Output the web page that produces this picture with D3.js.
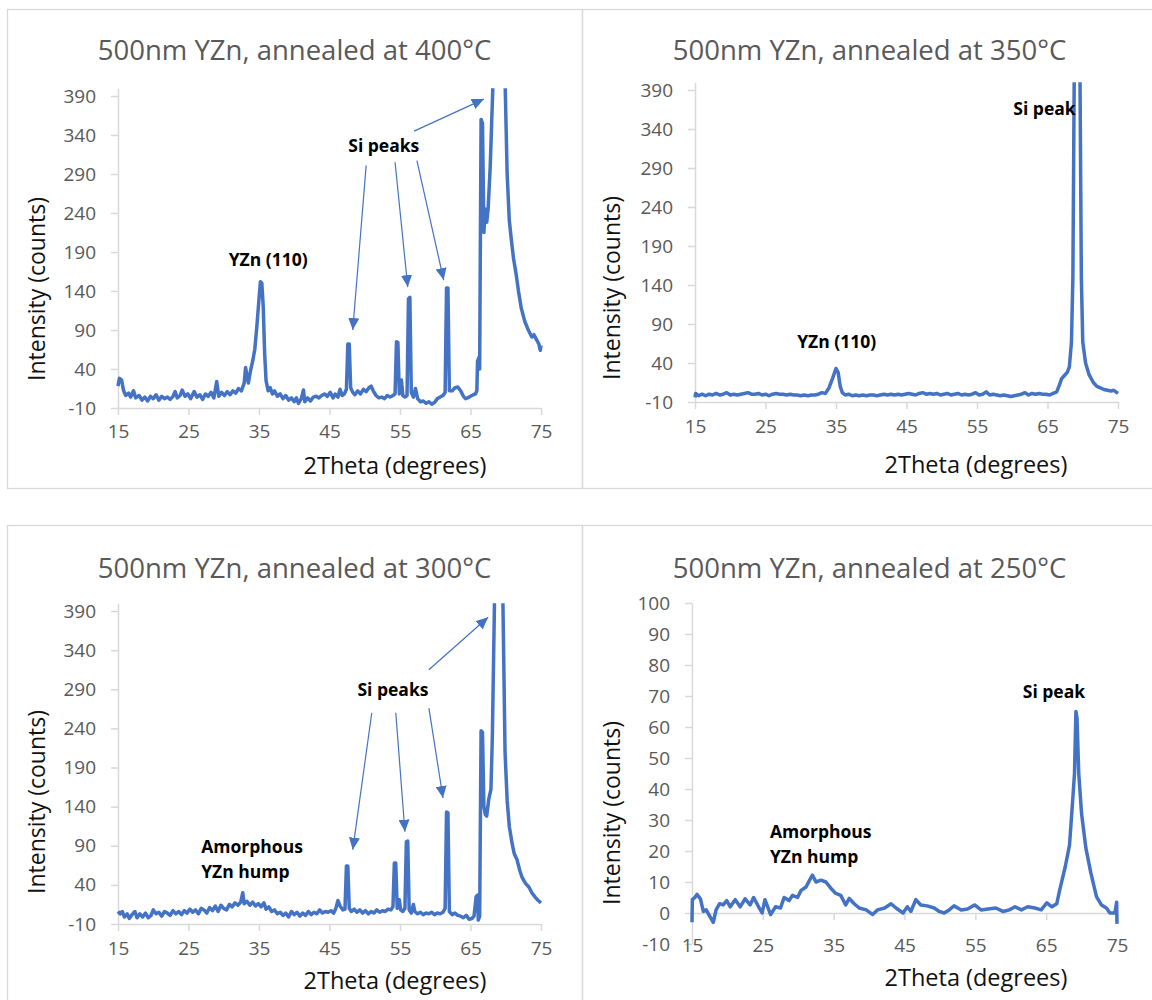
<!DOCTYPE html>
<html>
<head>
<meta charset="utf-8">
<script src="https://cdn.jsdelivr.net/npm/d3@7"></script>
<style>
  body { margin: 0; background: #fff; }
  text { font-family: "Open Sans", sans-serif; }
</style>
</head>
<body>
<script>
// tick values
const xTicks = [15, 25, 35, 45, 55, 65, 75];
const yTicksWide = [-10, 40, 90, 140, 190, 240, 290, 340, 390];
const yTicksNarrow = [-10, 0, 10, 20, 30, 40, 50, 60, 70, 80, 90, 100];

const titles = [
  '500nm YZn, annealed at 400°C',
  '500nm YZn, annealed at 350°C',
  '500nm YZn, annealed at 300°C',
  '500nm YZn, annealed at 250°C'
];

// [2theta, counts]
const scan400 = [
  [15.0,18],[15.2,28],[15.5,26],[15.8,12],[16.1,6],[16.5,9],[16.8,4],[17.2,12],[17.5,3],[18.0,6],[18.4,0],[18.8,4],
  [19.2,-1],[19.6,5],[20.0,2],[20.4,7],[20.8,0],[21.2,5],[21.6,2],[22.0,4],[22.4,1],[22.8,5],[23.1,11],[23.4,3],
  [23.8,6],[24.1,13],[24.5,5],[24.9,8],[25.3,2],[25.8,11],[26.2,4],[26.6,7],[27.0,1],[27.4,8],[27.8,5],[28.2,10],
  [28.6,3],[29.0,24],[29.3,5],[29.7,10],[30.1,6],[30.5,11],[30.9,7],[31.3,12],[31.7,9],[32.1,15],[32.5,12],[32.9,22],
  [33.1,42],[33.3,30],[33.5,22],[33.8,38],[34.1,50],[34.4,65],[34.7,95],[35.0,130],[35.2,152],[35.4,150],[35.6,120],
  [35.8,60],[36.0,25],[36.3,12],[36.6,16],[36.9,8],[37.2,12],[37.6,5],[38.0,8],[38.4,2],[38.8,6],[39.2,0],[39.6,3],
  [40.0,-2],[40.3,3],[40.6,-4],[41.0,2],[41.3,13],[41.5,-2],[41.9,3],[42.3,-1],[42.7,4],[43.1,5],[43.5,3],[43.9,6],
  [44.3,8],[44.7,5],[45.1,10],[45.5,3],[45.8,8],[46.2,4],[46.5,14],[46.8,6],[47.1,8],[47.4,14],[47.6,72],[47.8,72],
  [48.0,16],[48.3,10],[48.6,7],[49.0,12],[49.4,8],[49.8,14],[50.2,11],[50.6,16],[50.9,18],[51.2,12],[51.6,6],[52.0,3],
  [52.4,4],[52.8,2],[53.2,6],[53.6,4],[54.0,6],[54.3,8],[54.5,75],[54.7,74],[54.9,8],[55.2,26],[55.4,6],[55.7,4],
  [56.0,6],[56.2,130],[56.4,132],[56.6,10],[56.9,4],[57.2,15],[57.5,2],[57.9,-2],[58.3,-1],[58.7,-4],[59.1,-2],
  [59.5,-5],[59.9,-3],[60.3,2],[60.7,4],[61.1,6],[61.4,10],[61.6,144],[61.8,144],[62.0,12],[62.4,12],[62.8,16],
  [63.2,17],[63.6,12],[64.0,5],[64.3,2],[64.6,3],[65.0,5],[65.4,7],[65.7,8],[65.9,12],[66.0,50],[66.2,55],[66.3,40],
  [66.5,360],[66.7,355],[66.9,215],[67.1,245],[67.3,228],[67.5,245],[67.8,300],[68.2,410],[68.6,900],[69.0,2000],
  [69.4,900],[69.9,410],[70.2,290],[70.5,231],[70.8,205],[71.1,182],[71.5,160],[71.8,140],[72.2,118],[72.7,101],
  [73.2,90],[73.7,81],[74.0,84],[74.4,77],[74.7,72],[74.9,64],[75.0,70]
];

const scan350 = [
  [15.0,-4],[15.1,1],[15.5,-2],[16.0,0],[16.5,-2],[17.0,0],[17.5,-1],[18.0,1],[18.5,-1],[19.0,0],[19.5,2],[20.0,-1],
  [20.5,0],[21.0,-1],[21.5,0],[22.0,1],[22.5,2],[23.0,0],[23.5,0],[24.0,1],[24.5,-1],[25.0,0],[25.5,-2],[26.0,0],
  [26.5,1],[27.0,0],[27.5,0],[28.0,-1],[28.5,0],[29.0,-1],[29.5,-1],[30.0,-2],[30.5,-1],[31.0,-2],[31.5,-1],[32.0,-1],
  [32.5,0],[33.0,2],[33.5,1],[34.0,8],[34.5,20],[35.0,33],[35.3,28],[35.6,10],[35.9,2],[36.3,-1],[36.8,0],[37.3,-2],
  [37.8,-1],[38.3,-2],[38.8,-1],[39.3,-2],[39.8,-1],[40.3,-1],[40.8,-2],[41.3,-1],[41.8,0],[42.3,-1],[42.8,0],
  [43.3,-1],[43.8,0],[44.3,-1],[44.8,0],[45.3,1],[45.8,0],[46.3,-1],[46.8,1],[47.3,2],[47.8,0],[48.3,1],[48.8,0],
  [49.3,1],[49.8,-1],[50.3,0],[50.8,1],[51.3,-1],[51.8,0],[52.3,1],[52.8,-1],[53.3,0],[53.8,-1],[54.3,0],[54.8,2],
  [55.3,-1],[55.8,0],[56.3,3],[56.8,-1],[57.3,0],[57.8,-1],[58.3,-2],[58.8,-1],[59.3,-2],[59.8,-3],[60.3,-2],
  [60.8,-1],[61.3,0],[61.8,2],[62.3,-1],[62.8,1],[63.3,0],[63.8,1],[64.3,0],[64.8,0],[65.3,-1],[65.8,1],[66.3,3],
  [66.7,12],[67.0,20],[67.4,24],[67.8,28],[68.1,35],[68.4,67],[68.6,150],[68.8,420],[69.2,3000],[69.6,420],
  [69.8,150],[70.0,67],[70.4,40],[70.9,25],[71.5,15],[72.0,10],[72.5,8],[73.0,6],[73.5,5],[74.0,4],[74.4,5],
  [74.7,3],[75.0,1]
];

const scan300 = [
  [15.0,6],[15.3,3],[15.6,6],[15.9,-1],[16.3,3],[16.6,-3],[17.0,2],[17.4,6],[17.7,-2],[18.1,3],[18.5,-1],[18.9,4],
  [19.3,-2],[19.7,1],[20.0,8],[20.4,3],[20.8,5],[21.2,0],[21.6,6],[22.0,4],[22.4,1],[22.8,7],[23.2,3],[23.6,6],
  [24.0,2],[24.4,7],[24.8,4],[25.2,9],[25.6,5],[26.0,8],[26.4,3],[26.8,10],[27.2,8],[27.6,4],[28.0,11],[28.4,7],
  [28.8,13],[29.2,6],[29.6,14],[30.0,10],[30.4,8],[30.8,15],[31.2,12],[31.6,17],[32.0,14],[32.4,18],[32.7,30],
  [32.9,16],[33.3,19],[33.7,14],[34.1,18],[34.5,13],[34.9,16],[35.3,12],[35.7,17],[36.0,9],[36.4,12],[36.8,6],
  [37.2,8],[37.6,3],[38.0,5],[38.4,1],[38.8,4],[39.2,-1],[39.6,6],[40.0,2],[40.4,5],[40.8,0],[41.2,4],[41.6,1],
  [42.0,6],[42.4,2],[42.8,5],[43.2,3],[43.6,8],[44.0,4],[44.4,6],[44.8,5],[45.2,7],[45.6,4],[45.9,10],[46.2,20],
  [46.5,13],[46.9,8],[47.2,9],[47.4,64],[47.6,64],[47.8,10],[48.1,6],[48.5,9],[48.9,5],[49.3,8],[49.7,4],[50.1,7],
  [50.5,3],[50.9,6],[51.3,4],[51.7,8],[52.1,5],[52.5,7],[52.9,6],[53.3,9],[53.7,8],[54.0,12],[54.2,68],[54.4,68],
  [54.6,10],[54.9,21],[55.1,8],[55.4,6],[55.7,10],[55.9,95],[56.1,96],[56.3,8],[56.6,4],[56.9,15],[57.1,6],[57.5,3],
  [57.9,5],[58.3,2],[58.7,4],[59.1,3],[59.5,5],[59.9,2],[60.3,4],[60.7,3],[61.1,5],[61.4,10],[61.6,133],[61.8,132],
  [62.0,6],[62.4,2],[62.8,4],[63.2,1],[63.6,0],[64.0,-2],[64.4,1],[64.8,-4],[65.2,-3],[65.5,0],[65.8,25],[66.0,27],
  [66.1,-5],[66.3,0],[66.5,237],[66.7,235],[66.9,140],[67.1,130],[67.3,128],[67.6,150],[67.9,162],[68.1,230],
  [68.4,400],[68.8,1200],[69.1,2500],[69.4,900],[69.6,400],[69.9,210],[70.2,148],[70.5,115],[70.9,93],[71.2,80],
  [71.6,72],[72.0,58],[72.3,50],[72.8,42],[73.3,37],[73.7,30],[74.2,24],[74.6,20],[75.0,17]
];

const scan250 = [
  [15.0,-3],[15.05,4.3],[15.4,5],[15.7,6],[16.2,4.5],[16.6,0.5],[17.0,1],[17.5,-1],[18.0,-3],[18.4,1],[18.9,3],
  [19.4,2.6],[19.9,4],[20.4,2],[21.1,4.3],[21.8,2],[22.5,4.6],[23.2,2.6],[23.7,5],[24.4,2],[24.9,0],[25.3,4.3],
  [26.1,-0.5],[26.8,2],[27.5,1.6],[28.0,5],[28.7,4],[29.2,5.7],[29.9,5],[30.4,7.3],[31.1,8.4],[31.6,10.6],[32.0,12.2],
  [32.5,10],[33.2,10.6],[33.9,10],[34.6,8],[35.3,6.3],[36.0,5.7],[36.7,2.6],[37.2,4.7],[37.9,3],[38.6,1.6],[39.6,1],
  [40.5,-0.5],[41.2,1],[42.2,1.6],[43.1,3],[43.8,1.6],[44.8,0],[45.4,2],[45.9,0.5],[46.6,4.3],[47.3,2.6],[48.2,2.3],
  [49.2,1.6],[49.9,0.5],[50.6,0],[51.3,1],[52.0,2.3],[53.0,1],[53.9,1.3],[54.9,2.6],[55.8,1],[56.8,1.3],[57.9,1.6],
  [58.9,0.5],[59.8,1],[60.6,2],[61.5,1],[62.4,2],[63.4,1.6],[64.3,1],[65.1,3.3],[65.8,2],[66.5,3],[66.9,7.3],
  [67.7,15],[68.3,22],[68.7,35],[69.0,45],[69.2,65],[69.35,63],[69.6,45],[70.0,32],[70.6,21],[71.3,13],[72.1,5.3],
  [72.8,2.6],[73.5,1.6],[74.0,0],[74.7,0],[74.95,3.5],[75.0,-3.5]
];

const blue = '#4472C4';

const panels = [
  { title: titles[0], data: scan400, frame: [7, 9, 575, 479], xr: [118, 541], yr: [408, 88.2], yd: [-10, 400],
    yTicks: yTicksWide, xAxisAt: -10, xPad: 10, titleY: 60, xTitle: [395, 474], yTitle: [45, 289],
    labels: [{ t: 'YZn (110)', x: 36.3, y: 172, a: 'middle' }, { t: 'Si peaks', x: 52.7, y: 318, a: 'middle' }],
    arrows: [[50.2, 301, 48.3, 90], [54.3, 305, 56.1, 145], [57.4, 307, 61.2, 154], [57.0, 345, 66.9, 386]] },
  { title: titles[1], data: scan350, frame: [582, 9, 575, 479], xr: [695, 1118], yr: [402, 82.2], yd: [-10, 400],
    yTicks: yTicksWide, xAxisAt: -10, xPad: 11, titleY: 60, xTitle: [976, 473], yTitle: [620, 288],
    labels: [{ t: 'Si peak', x: 69.0, y: 358, a: 'end' }, { t: 'YZn (110)', x: 35.1, y: 59, a: 'middle' }],
    arrows: [] },
  { title: titles[2], data: scan300, frame: [7, 525, 575, 480], xr: [118, 541], yr: [924, 603.2], yd: [-10, 400],
    yTicks: yTicksWide, xAxisAt: -10, xPad: 11, titleY: 578, xTitle: [395, 989], yTitle: [45, 802],
    labels: [{ t: 'Si peaks', x: 54.0, y: 282, a: 'middle' }, { t: 'Amorphous', x: 26.8, y: 81, a: 'start' },
             { t: 'YZn hump', x: 26.8, y: 49, a: 'start' }],
    arrows: [[51.0, 260, 48.3, 85], [54.4, 260, 55.7, 108], [59.1, 266, 61.1, 151], [59.1, 315, 67.5, 382]] },
  { title: titles[3], data: scan250, frame: [582, 525, 575, 480], xr: [692, 1117], yr: [944, 603], yd: [-10, 100],
    yTicks: yTicksNarrow, xAxisAt: 0, xPad: 19, titleY: 578, xTitle: [976, 986], yTitle: [620, 813],
    labels: [{ t: 'Si peak', x: 66.1, y: 69.4, a: 'middle' }, { t: 'Amorphous', x: 26.0, y: 24.2, a: 'start' },
             { t: 'YZn hump', x: 26.0, y: 16.1, a: 'start' }],
    arrows: [] }
];

const svg = d3.select('body').append('svg')
  .attr('width', 1152)
  .attr('height', 1000);

svg.append('defs').append('marker')
  .attr('id', 'head')
  .attr('viewBox', '0 0 12 11')
  .attr('refX', 12).attr('refY', 5.5)
  .attr('markerWidth', 12).attr('markerHeight', 11)
  .attr('markerUnits', 'userSpaceOnUse')
  .attr('orient', 'auto')
  .append('path')
  .attr('d', 'M0,0L12,5.5L0,11Z')
  .attr('fill', blue);

panels.forEach((p, i) => {
  const g = svg.append('g');

  g.append('rect')
    .attr('x', p.frame[0] + 0.5).attr('y', p.frame[1] + 0.5)
    .attr('width', p.frame[2]).attr('height', p.frame[3])
    .attr('fill', 'none').attr('stroke', '#d9d9d9').attr('stroke-width', 1.3);

  const x = d3.scaleLinear().domain([15, 75]).range(p.xr);
  const y = d3.scaleLinear().domain(p.yd).range(p.yr);

  g.append('text')
    .attr('x', p.frame[0] + p.frame[2] / 2)
    .attr('y', p.titleY)
    .attr('text-anchor', 'middle')
    .attr('font-size', 27.5)
    .attr('fill', '#595959')
    .text(p.title);

  const yAxis = g.append('g')
    .attr('transform', `translate(${p.xr[0]},0)`)
    .call(d3.axisLeft(y).tickValues(p.yTicks).tickFormat(d => String(d))
      .tickSize(7).tickSizeOuter(0).tickPadding(15));

  const xAxis = g.append('g')
    .attr('transform', `translate(0,${y(p.xAxisAt)})`)
    .call(d3.axisBottom(x).tickValues(xTicks).tickFormat(d => String(d))
      .tickSize(7).tickSizeOuter(0).tickPadding(p.xPad));

  [yAxis, xAxis].forEach(a => {
    a.select('.domain').attr('stroke', '#d9d9d9').attr('stroke-width', 1.5);
    a.selectAll('.tick line').attr('stroke', '#d9d9d9').attr('stroke-width', 1.5);
    a.selectAll('.tick text')
      .attr('font-size', 19)
      .attr('font-family', '"Open Sans", sans-serif')
      .attr('fill', '#595959');
  });

  g.append('text')
    .attr('x', p.xTitle[0]).attr('y', p.xTitle[1])
    .attr('text-anchor', 'middle')
    .attr('font-size', 23.5)
    .attr('fill', '#111')
    .text('2Theta (degrees)');

  g.append('text')
    .attr('transform', `translate(${p.yTitle[0]},${p.yTitle[1]}) rotate(-90)`)
    .attr('text-anchor', 'middle')
    .attr('font-size', 23)
    .attr('fill', '#111')
    .text('Intensity (counts)');

  g.append('clipPath').attr('id', 'clip' + i)
    .append('rect')
    .attr('x', p.xr[0] - 4).attr('y', y(p.yd[1]))
    .attr('width', p.xr[1] - p.xr[0] + 8)
    .attr('height', p.yr[0] - y(p.yd[1]) + 10);

  const line = d3.line()
    .x(d => x(d[0]))
    .y(d => y(d[1]));

  g.append('path')
    .datum(p.data)
    .attr('clip-path', `url(#clip${i})`)
    .attr('d', line)
    .attr('fill', 'none')
    .attr('stroke', blue)
    .attr('stroke-width', 3.5)
    .attr('stroke-linejoin', 'round');

  g.selectAll('.arrow')
    .data(p.arrows)
    .enter()
    .append('line')
    .attr('x1', d => x(d[0])).attr('y1', d => y(d[1]))
    .attr('x2', d => x(d[2])).attr('y2', d => y(d[3]))
    .attr('stroke', blue)
    .attr('stroke-width', 1.2)
    .attr('marker-end', 'url(#head)');

  g.selectAll('.note')
    .data(p.labels)
    .enter()
    .append('text')
    .attr('x', d => x(d.x)).attr('y', d => y(d.y))
    .attr('text-anchor', d => d.a)
    .attr('font-size', 17.5)
    .attr('font-weight', 'bold')
    .attr('fill', '#000')
    .text(d => d.t);
});
</script>
</body>
</html>
